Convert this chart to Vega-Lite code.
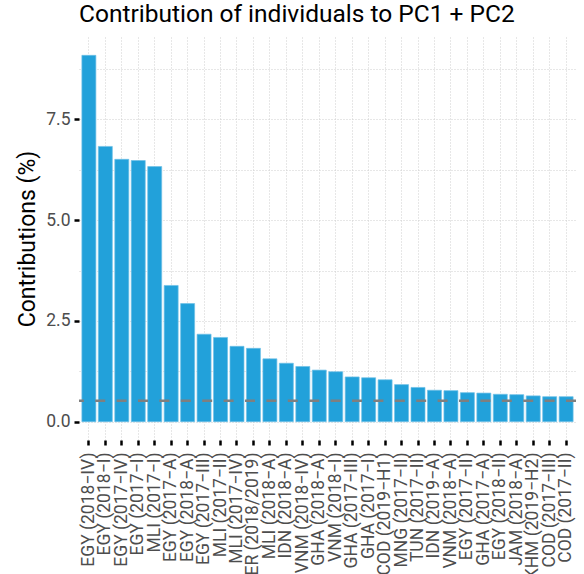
{
  "$schema": "https://vega.github.io/schema/vega-lite/v6.json",
  "width": 497,
  "height": 403,
  "autosize": {"type": "none"},
  "padding": {"left": 79, "top": 37, "right": 8, "bottom": 134},
  "background": "white",
  "config": {
    "view": {"stroke": null},
    "font": "Roboto"
  },
  "title": {
    "text": "Contribution of individuals to PC1 + PC2",
    "anchor": "start",
    "frame": "group",
    "font": "Roboto",
    "fontSize": 24.5,
    "fontWeight": "normal",
    "color": "black",
    "dx": 0,
    "offset": 10
  },
  "datasets": {
    "contrib": [
      {"individual": "EGY (2018−IV)", "contribution": 9.09},
      {"individual": "EGY (2018−I)", "contribution": 6.83},
      {"individual": "EGY (2017−IV)", "contribution": 6.51},
      {"individual": "EGY (2017−I)", "contribution": 6.48},
      {"individual": "MLI (2017−I)", "contribution": 6.33},
      {"individual": "EGY (2017−A)", "contribution": 3.38},
      {"individual": "EGY (2018−A)", "contribution": 2.93},
      {"individual": "EGY (2017−III)", "contribution": 2.17},
      {"individual": "MLI (2017−II)", "contribution": 2.09},
      {"individual": "MLI (2017−IV)", "contribution": 1.87},
      {"individual": "NER (2018/2019)", "contribution": 1.82},
      {"individual": "MLI (2018−A)", "contribution": 1.56},
      {"individual": "IDN (2018−A)", "contribution": 1.45},
      {"individual": "VNM (2018−IV)", "contribution": 1.37},
      {"individual": "GHA (2018−A)", "contribution": 1.28},
      {"individual": "VNM (2018−I)", "contribution": 1.24},
      {"individual": "GHA (2017−III)", "contribution": 1.11},
      {"individual": "GHA (2017−I)", "contribution": 1.09},
      {"individual": "COD (2019−H1)", "contribution": 1.04},
      {"individual": "MNG (2017−II)", "contribution": 0.92},
      {"individual": "TUN (2017−II)", "contribution": 0.85},
      {"individual": "IDN (2019−A)", "contribution": 0.78},
      {"individual": "VNM (2018−A)", "contribution": 0.77},
      {"individual": "EGY (2017−II)", "contribution": 0.72},
      {"individual": "GHA (2017−A)", "contribution": 0.71},
      {"individual": "EGY (2018−II)", "contribution": 0.68},
      {"individual": "JAM (2018−A)", "contribution": 0.67},
      {"individual": "KHM (2019−H2)", "contribution": 0.64},
      {"individual": "COD (2017−III)", "contribution": 0.62},
      {"individual": "COD (2017−II)", "contribution": 0.62}
    ],
    "expected": [{"expected": 0.52}]
  },
  "layer": [
    {
      "data": {"name": "contrib"},
      "mark": {"type": "bar", "color": "#22a1da", "stroke": "#6fc0e6", "strokeWidth": 0.7},
      "encoding": {
        "x": {
          "field": "individual",
          "type": "nominal",
          "sort": null,
          "scale": {"paddingInner": 0.15, "paddingOuter": 0.175},
          "axis": {
            "title": null,
            "domain": false,
            "grid": true,
            "gridColor": "#cfcfcf",
            "gridDash": [1, 2],
            "gridWidth": 1,
            "ticks": true,
            "tickColor": "black",
            "tickWidth": 2.5,
            "tickSize": 5,
            "labelAngle": -90,
            "labelAlign": "right",
            "labelBaseline": "middle",
            "labelFont": "Roboto",
            "labelFontSize": 17.5,
            "labelColor": "#4d4d4d",
            "labelPadding": 7,
            "labelOverlap": false,
            "labelLimit": 0
          }
        },
        "y": {
          "field": "contribution",
          "type": "quantitative",
          "scale": {"domain": [-0.4545, 9.545], "nice": false, "zero": false},
          "axis": {
            "title": "Contributions (%)",
            "titleFont": "Roboto",
            "titleFontSize": 23,
            "titleFontWeight": "normal",
            "titleColor": "black",
            "titlePadding": 6,
            "domain": false,
            "values": [0, 1.25, 2.5, 3.75, 5, 6.25, 7.5, 8.75],
            "labelExpr": "datum.value % 2.5 === 0 ? format(datum.value, '.1f') : ''",
            "grid": true,
            "gridColor": "#cfcfcf",
            "gridDash": [1, 2],
            "gridWidth": 1,
            "ticks": true,
            "tickColor": "black",
            "tickWidth": 2.5,
            "tickSize": 5,
            "tickOpacity": {"condition": {"test": "datum.value % 2.5 !== 0", "value": 0}, "value": 1},
            "labelFont": "Roboto",
            "labelFontSize": 17.5,
            "labelColor": "#4d4d4d",
            "labelPadding": 4
          }
        }
      }
    },
    {
      "data": {"name": "expected"},
      "mark": {"type": "rule", "color": "#7f7f7f", "strokeWidth": 2.5, "strokeDash": [10, 11.4]},
      "encoding": {
        "y": {"field": "expected", "type": "quantitative"}
      }
    }
  ]
}
